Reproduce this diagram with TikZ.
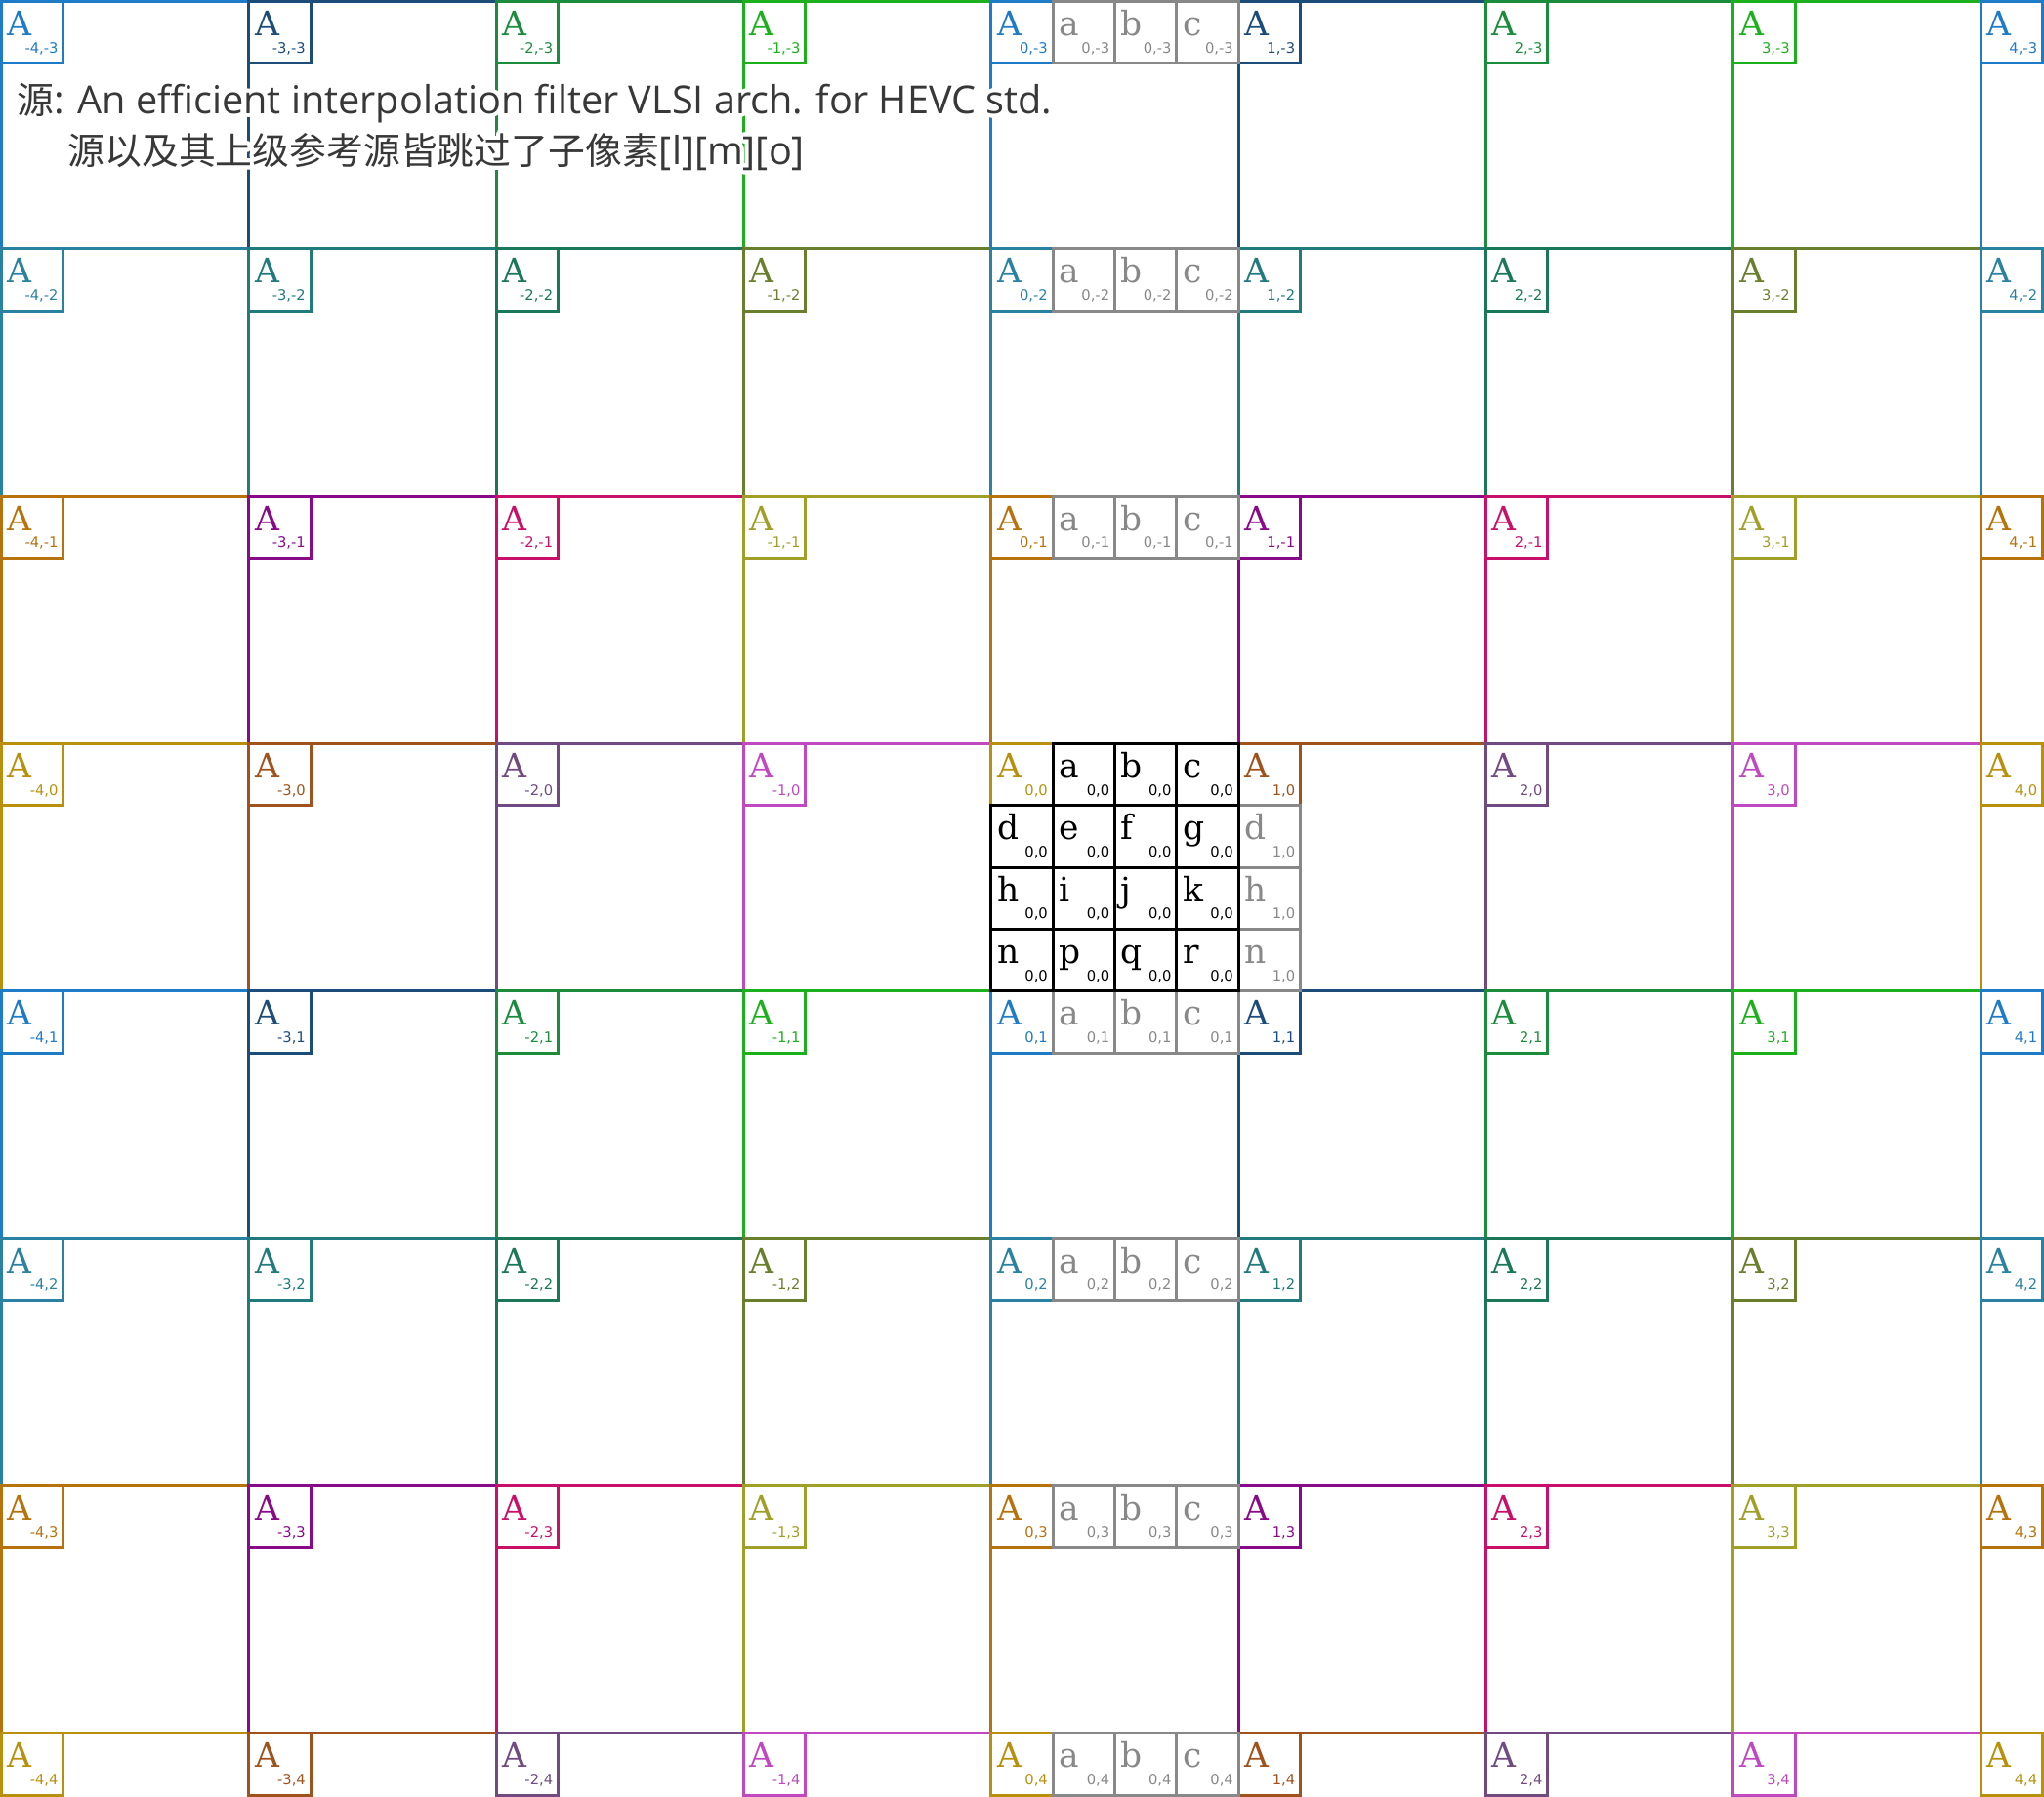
\documentclass[tikz,border=0pt]{standalone}
\usepackage{fontspec}
\usepackage{contour}
\newfontfamily\cjkfont{Noto Sans CJK SC}
\newfontfamily\latinfont{Open Sans}
\newfontfamily\letterfont{DejaVu Serif}
\newfontfamily\subfont{DejaVu Sans}
\definecolor{c01}{HTML}{1E7BC8}
\definecolor{c11}{HTML}{1C4C78}
\definecolor{c21}{HTML}{1A8C3C}
\definecolor{c31}{HTML}{1DB01D}
\definecolor{c02}{HTML}{2A82A2}
\definecolor{c12}{HTML}{217A7E}
\definecolor{c22}{HTML}{1A7858}
\definecolor{c32}{HTML}{6A7F2E}
\definecolor{c03}{HTML}{B8720C}
\definecolor{c13}{HTML}{880A88}
\definecolor{c23}{HTML}{C8106A}
\definecolor{c33}{HTML}{A0A028}
\definecolor{c00}{HTML}{B8900C}
\definecolor{c10}{HTML}{A0521C}
\definecolor{c20}{HTML}{704A80}
\definecolor{c30}{HTML}{C048C0}
\definecolor{subgray}{HTML}{888888}
\definecolor{notegray}{HTML}{383838}
\contourlength{1.8pt}
\contournumber{32}
\newcommand\cjktext[1]{{\cjkfont\fontsize{17}{20}\selectfont #1}}
\tikzset{
  gridline/.style={line width=1.35pt},
  bigletter/.style={font=\letterfont\fontsize{15.5}{18}\selectfont, inner sep=0pt, outer sep=0pt, anchor=base west},
  sublabel/.style={font=\subfont\fontsize{6.6}{8}\selectfont, inner sep=0pt, outer sep=0pt, anchor=base east},
  note/.style={font=\latinfont\fontsize{17.8}{20}\selectfont, text=notegray, inner sep=0pt, outer sep=0pt, anchor=base west}
}
\begin{document}
\begin{tikzpicture}
\useasboundingbox (-0.024,0.024) rectangle (33.024,-29.024);
\clip (-0.024,0.024) rectangle (33.024,-29.024);
% cells with their A boxes
\foreach \j in {-3,...,4}{
  \foreach \i in {-4,...,4}{
    \pgfmathtruncatemacro\ri{mod(\i+8,4)}
    \pgfmathtruncatemacro\rj{mod(\j+8,4)}
    \pgfmathtruncatemacro\X{4*(\i+4)}
    \pgfmathtruncatemacro\Y{-4*(\j+3)}
    \colorlet{cur}{c\ri\rj}
    \draw[gridline, draw=cur] (\X,\Y) rectangle ++(4,-4);
    \draw[gridline, draw=cur] (\X,\Y) rectangle ++(1,-1);
    \node[bigletter, text=cur] (A\i x\j) at (\X+0.1,\Y-0.55) {A};
    \node[sublabel, text=cur] (s\i x\j) at (\X+0.915,\Y-0.83) {\i,\j};
  }
}
% gray a b c boxes in column 0
\foreach \j in {-3,-2,-1,1,2,3,4}{
  \pgfmathtruncatemacro\Y{-4*(\j+3)}
  \foreach \k/\lt in {1/a,2/b,3/c}{
    \draw[gridline, draw=subgray] (16+\k,\Y) rectangle ++(1,-1);
    \node[bigletter, text=subgray] (g\lt\j) at (16.1+\k,\Y-0.55) {\lt};
    \node[sublabel, text=subgray] (gs\lt\j) at (16.915+\k,\Y-0.83) {0,\j};
  }
}
% gray d h n boxes in cell (1,0)
\foreach \m/\lt in {1/d,2/h,3/n}{
  \draw[gridline, draw=subgray] (20,-12-\m) rectangle ++(1,-1);
  \node[bigletter, text=subgray] (r\lt) at (20.1,-12.55-\m) {\lt};
  \node[sublabel, text=subgray] (rs\lt) at (20.915,-12.83-\m) {1,0};
}
% black sub-pixel boxes of cell (0,0)
\foreach \cx/\cy/\lt in {1/0/a,2/0/b,3/0/c,0/1/d,1/1/e,2/1/f,3/1/g,0/2/h,1/2/i,2/2/j,3/2/k,0/3/n,1/3/p,2/3/q,3/3/r}{
  \draw[gridline, draw=black] (16+\cx,-12-\cy) rectangle ++(1,-1);
  \node[bigletter, text=black] (k\lt) at (16.1+\cx,-12.55-\cy) {\lt};
  \node[sublabel, text=black] (ks\lt) at (16.915+\cx,-12.83-\cy) {0,0};
}
% note text
\node[note] (t1) at (0.253,-1.816) {\contour{white}{\cjktext{源}: An efficient interpolation filter VLSI arch. for HEVC std.}};
\node[note] (t2) at (1.074,-2.637) {\contour{white}{\cjktext{源以及其上级参考源皆跳过了子像素}[l][m][o]}};
\end{tikzpicture}
\end{document}
